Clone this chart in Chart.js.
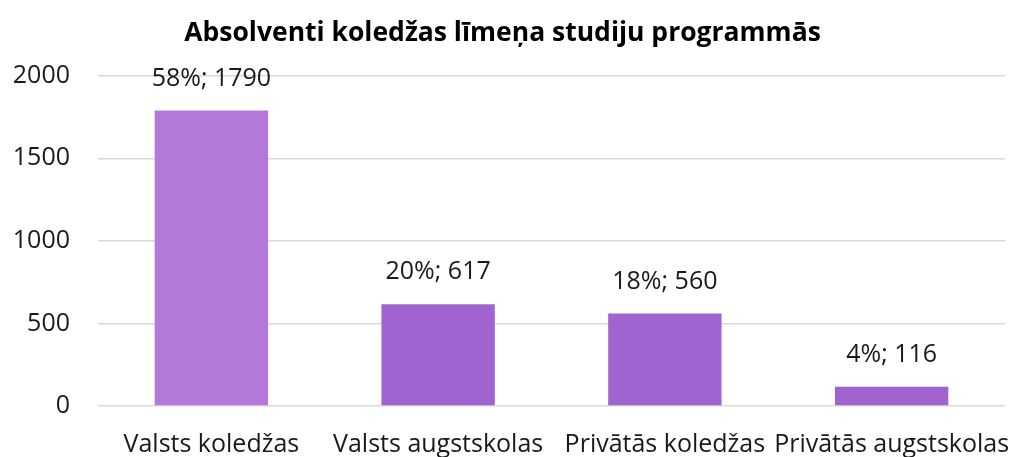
<!DOCTYPE html>
<html>
<head>
<meta charset="utf-8">
<script src="https://cdn.jsdelivr.net/npm/chart.js@4/dist/chart.umd.min.js"></script>
<style>
  html, body { margin: 0; padding: 0; background: #fff; }
  #wrap { width: 1015px; height: 457px; }
</style>
</head>
<body>
<div id="wrap"><canvas id="chart"></canvas></div>
<script>
const categories = ['Valsts koledžas', 'Valsts augstskolas', 'Privātās koledžas', 'Privātās augstskolas'];
const graduates = [1790, 617, 560, 116];
const shares = ['58%', '20%', '18%', '4%'];
const barColors = ['#b478d8', '#a063cf', '#a063cf', '#a063cf'];
const yTicks = [0, 500, 1000, 1500, 2000];

const FONT = '"Open Sans", sans-serif';

// draws "58%; 1790" style labels above each bar
const valueLabels = {
  id: 'valueLabels',
  afterDatasetsDraw(chart) {
    const ctx = chart.ctx;
    const meta = chart.getDatasetMeta(0);
    ctx.save();
    ctx.font = '25px ' + FONT;
    ctx.fillStyle = '#1a1a1a';
    ctx.textAlign = 'center';
    ctx.textBaseline = 'middle';
    meta.data.forEach((bar, i) => {
      ctx.fillText(shares[i] + '; ' + graduates[i], bar.x, bar.y - 32);
    });
    ctx.restore();
  }
};

new Chart(document.getElementById('chart'), {
  type: 'bar',
  data: {
    labels: categories,
    datasets: [{
      data: graduates,
      backgroundColor: barColors,
      barPercentage: 0.5,
      categoryPercentage: 1
    }]
  },
  options: {
    responsive: true,
    maintainAspectRatio: false,
    animation: false,
    layout: { padding: { left: 0, right: 10, top: 10, bottom: 0 } },
    plugins: {
      legend: { display: false },
      tooltip: { enabled: false },
      title: {
        display: true,
        text: 'Absolventi koledžas līmeņa studiju programmās',
        color: '#000',
        font: { family: FONT, size: 26.5, weight: 'bold' },
        padding: { top: 8, bottom: 26 }
      }
    },
    scales: {
      x: {
        grid: { display: false },
        border: { display: false },
        ticks: {
          color: '#1a1a1a',
          font: { family: FONT, size: 25 },
          maxRotation: 0,
          autoSkip: false,
          padding: 16
        },
        afterFit(scale) {
          scale.height = 51;
          // let the long last label overhang like the original
          scale.paddingLeft = 0;
          scale.paddingRight = 0;
        }
      },
      y: {
        min: 0,
        max: 2000,
        afterBuildTicks(scale) { scale.ticks = yTicks.map(v => ({ value: v })); },
        grid: { color: '#d9d9d9', lineWidth: 1.5, drawTicks: false },
        border: { display: false },
        ticks: {
          color: '#1a1a1a',
          font: { family: FONT, size: 25 },
          padding: 28,
          callback: v => String(v)
        },
        afterFit(scale) { scale.width = 98; }
      }
    }
  },
  plugins: [valueLabels]
});
</script>
</body>
</html>
